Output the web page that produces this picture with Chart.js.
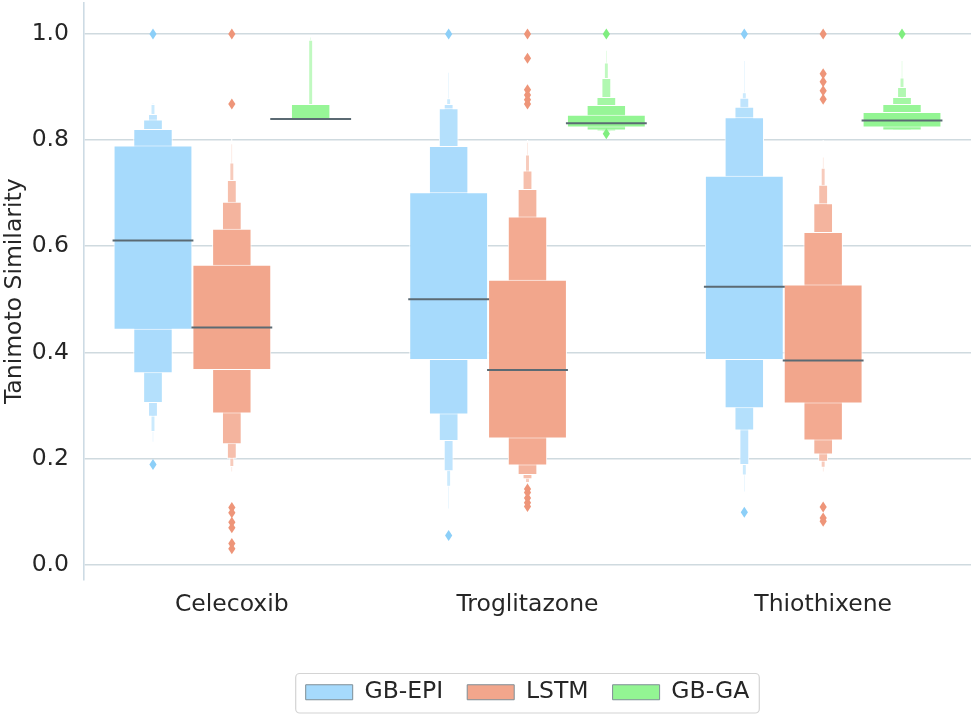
<!DOCTYPE html>
<html>
<head>
<meta charset="utf-8">
<script src="https://cdn.jsdelivr.net/npm/chart.js@4/dist/chart.umd.min.js"></script>
<style>
  html, body { margin: 0; padding: 0; background: #ffffff; }
  #wrap { width: 975px; height: 716px; }
</style>
</head>
<body>
<div id="wrap"><canvas id="chart"></canvas></div>
<script>
var categories = ['Celecoxib', 'Troglitazone', 'Thiothixene'];
var seriesNames = ['GB-EPI', 'LSTM', 'GB-GA'];
var tickValues = [0.0, 0.2, 0.4, 0.6, 0.8, 1.0];

// letter-value boxes, innermost first; each row is [low, high] for Celecoxib, Troglitazone, Thiothixene
var gbEpiBoxes = [
    [[0.443, 0.790], [0.386, 0.702], [0.386, 0.733]],
    [[0.361, 0.821], [0.283, 0.789], [0.295, 0.843]],
    [[0.305, 0.839], [0.233, 0.860], [0.253, 0.863]],
    [[0.279, 0.849], [0.176, 0.868], [0.188, 0.880]],
    [[0.250, 0.868], [0.147, 0.879], [0.168, 0.890]],
    [[0.230, 0.872], [0.104, 0.929], [0.136, 0.951]]
];
var lstmBoxes = [
    [[0.367, 0.565], [0.238, 0.537], [0.304, 0.528]],
    [[0.285, 0.633], [0.187, 0.656], [0.234, 0.627]],
    [[0.227, 0.684], [0.169, 0.708], [0.208, 0.681]],
    [[0.200, 0.725], [0.161, 0.743], [0.194, 0.716]],
    [[0.184, 0.758], [0.154, 0.773], [0.183, 0.748]],
    [[0.174, 0.794], [0.150, 0.797], [0.174, 0.769]],
    [[0.170, 0.810], [0.148, 0.800], [0.170, 0.800]]
];
var gbGaBoxes = [
    [[0.840, 0.840], [0.824, 0.848], [0.824, 0.853]],
    [[0.840, 0.868], [0.818, 0.866], [0.818, 0.868]],
    [[0.840, 0.868], [0.816, 0.881], [0.818, 0.881]],
    [[0.840, 0.868], [0.815, 0.917], [0.818, 0.900]],
    [[0.840, 0.989], [0.814, 0.946], [0.818, 0.918]],
    [[0.840, 0.995], [0.813, 0.970], [0.818, 0.951]]
];

var gbEpiMedians = [0.611, 0.500, 0.524];
var lstmMedians = [0.447, 0.367, 0.385];
var gbGaMedians = [0.840, 0.832, 0.837];

var gbEpiOutliers = [[1.0, 0.189], [1.0, 0.055], [1.0, 0.099]];
var lstmOutliers = [
    [1.0, 0.868, 0.108, 0.098, 0.080, 0.070, 0.040, 0.030],
    [1.0, 0.954, 0.895, 0.885, 0.876, 0.868, 0.143, 0.136, 0.126, 0.117, 0.110],
    [1.0, 0.925, 0.910, 0.893, 0.877, 0.109, 0.088, 0.082]
];
var gbGaOutliers = [[], [1.0, 0.812], [1.0]];

var allBoxes = [gbEpiBoxes, lstmBoxes, gbGaBoxes];
var allMedians = [gbEpiMedians, lstmMedians, gbGaMedians];
var allOutliers = [gbEpiOutliers, lstmOutliers, gbGaOutliers];

// styles
var seriesColors = ['#a6dafc', '#f2a68c', '#93f593'];
var outlierColors = ['#8ccff8', '#ee9579', '#7fee7f'];
var levelWidths = [1, 0.5, 0.25, 0.125, 0.0625, 0.032, 0.018];
var levelFade = [0, 0.04, 0.16, 0.28, 0.42, 0.58, 0.72];
var textColor = '#262626';
var fontFamily = '"DejaVu Sans", sans-serif';
var fontSize = 23.5;

function fade(hex, t) {
    var r = parseInt(hex.substr(1, 2), 16);
    var g = parseInt(hex.substr(3, 2), 16);
    var b = parseInt(hex.substr(5, 2), 16);
    r = Math.round(r + (255 - r) * t);
    g = Math.round(g + (255 - g) * t);
    b = Math.round(b + (255 - b) * t);
    return 'rgb(' + r + ',' + g + ',' + b + ')';
}

// one bar dataset per level and series; level 0 (widest) comes first so it is drawn on top
var datasets = [];
var maxLevels = Math.max(gbEpiBoxes.length, lstmBoxes.length, gbGaBoxes.length);
for (var k = 0; k < maxLevels; k++) {
    for (var s = 0; s < seriesNames.length; s++) {
        var boxes = allBoxes[s];
        if (k >= boxes.length) continue;
        datasets.push({
            label: seriesNames[s],
            stack: seriesNames[s],
            data: boxes[k],
            order: k,
            backgroundColor: fade(seriesColors[s], levelFade[k]),
            borderColor: '#ffffff',
            borderWidth: 1,
            borderSkipped: false,
            barPercentage: levelWidths[k],
            categoryPercentage: 0.8
        });
    }
}

// medians and outliers sit on the innermost box of each series
var boxenExtras = {
    id: 'boxenExtras',
    afterDatasetsDraw: function (chart) {
        var ctx = chart.ctx;
        var y = chart.scales.y;
        for (var s = 0; s < seriesNames.length; s++) {
            var meta = chart.getDatasetMeta(s);
            meta.data.forEach(function (bar, i) {
                var props = bar.getProps(['x', 'width'], true);
                ctx.save();
                ctx.fillStyle = outlierColors[s];
                allOutliers[s][i].forEach(function (v) {
                    var py = y.getPixelForValue(v);
                    ctx.beginPath();
                    ctx.moveTo(props.x, py - 5.5);
                    ctx.lineTo(props.x + 3.6, py);
                    ctx.lineTo(props.x, py + 5.5);
                    ctx.lineTo(props.x - 3.6, py);
                    ctx.closePath();
                    ctx.fill();
                });
                var my = y.getPixelForValue(allMedians[s][i]);
                ctx.strokeStyle = '#5b6a73';
                ctx.lineWidth = 2;
                ctx.beginPath();
                ctx.moveTo(props.x - props.width / 2 - 1, my);
                ctx.lineTo(props.x + props.width / 2 + 1, my);
                ctx.stroke();
                ctx.restore();
            });
        }
    }
};

// frame round the legend row
var legendFrame = {
    id: 'legendFrame',
    afterDraw: function (chart) {
        var boxes = chart.legend.legendHitBoxes;
        if (!boxes || !boxes.length) return;
        var left = Infinity, right = -Infinity, top = Infinity, bottom = -Infinity;
        boxes.forEach(function (b) {
            left = Math.min(left, b.left);
            right = Math.max(right, b.left + b.width);
            top = Math.min(top, b.top);
            bottom = Math.max(bottom, b.top + b.height);
        });
        var ctx = chart.ctx;
        ctx.save();
        ctx.strokeStyle = '#d4d4d4';
        ctx.lineWidth = 1.2;
        ctx.beginPath();
        ctx.roundRect(left - 10, top - 7, right - left + 20, bottom - top + 16, 4);
        ctx.stroke();
        ctx.restore();
    }
};

var chart = new Chart(document.getElementById('chart'), {
    type: 'bar',
    data: {
        labels: categories,
        datasets: datasets
    },
    options: {
        responsive: true,
        maintainAspectRatio: false,
        animation: false,
        layout: {
            padding: { top: 3, right: 4, bottom: 2, left: 0 }
        },
        scales: {
            x: {
                grid: { display: false },
                border: { display: false },
                ticks: {
                    color: textColor,
                    padding: 3,
                    font: { family: fontFamily, size: fontSize }
                },
                afterFit: function (scale) {
                    scale.height = 77;
                }
            },
            y: {
                stacked: false,
                min: -0.0277,
                max: 1.0583,
                afterBuildTicks: function (scale) {
                    scale.ticks = tickValues.map(function (v) { return { value: v }; });
                },
                ticks: {
                    color: textColor,
                    padding: 15,
                    font: { family: fontFamily, size: fontSize },
                    callback: function (value) {
                        return value.toFixed(1);
                    }
                },
                grid: {
                    color: '#cfdadf',
                    lineWidth: 1.6,
                    drawTicks: false
                },
                border: {
                    color: '#cddbe4',
                    width: 1.6
                },
                title: {
                    display: true,
                    text: 'Tanimoto Similarity',
                    color: textColor,
                    padding: { top: 1, bottom: 0 },
                    font: { family: fontFamily, size: fontSize }
                },
                afterFit: function (scale) {
                    scale.width = 84;
                    scale.paddingTop = 0;
                    scale.paddingBottom = 0;
                }
            }
        },
        plugins: {
            legend: {
                position: 'bottom',
                fullSize: false,
                maxHeight: 65,
                labels: {
                    boxWidth: 47,
                    boxHeight: 15,
                    padding: 24,
                    color: textColor,
                    font: { family: fontFamily, size: fontSize },
                    generateLabels: function () {
                        return seriesNames.map(function (name, s) {
                            return {
                                text: name,
                                fillStyle: seriesColors[s],
                                strokeStyle: '#7f8e96',
                                lineWidth: 1,
                                fontColor: textColor,
                                hidden: false,
                                datasetIndex: s
                            };
                        });
                    }
                },
                onClick: function () {}
            },
            tooltip: { enabled: false }
        }
    },
    plugins: [boxenExtras, legendFrame]
});
</script>
</body>
</html>
